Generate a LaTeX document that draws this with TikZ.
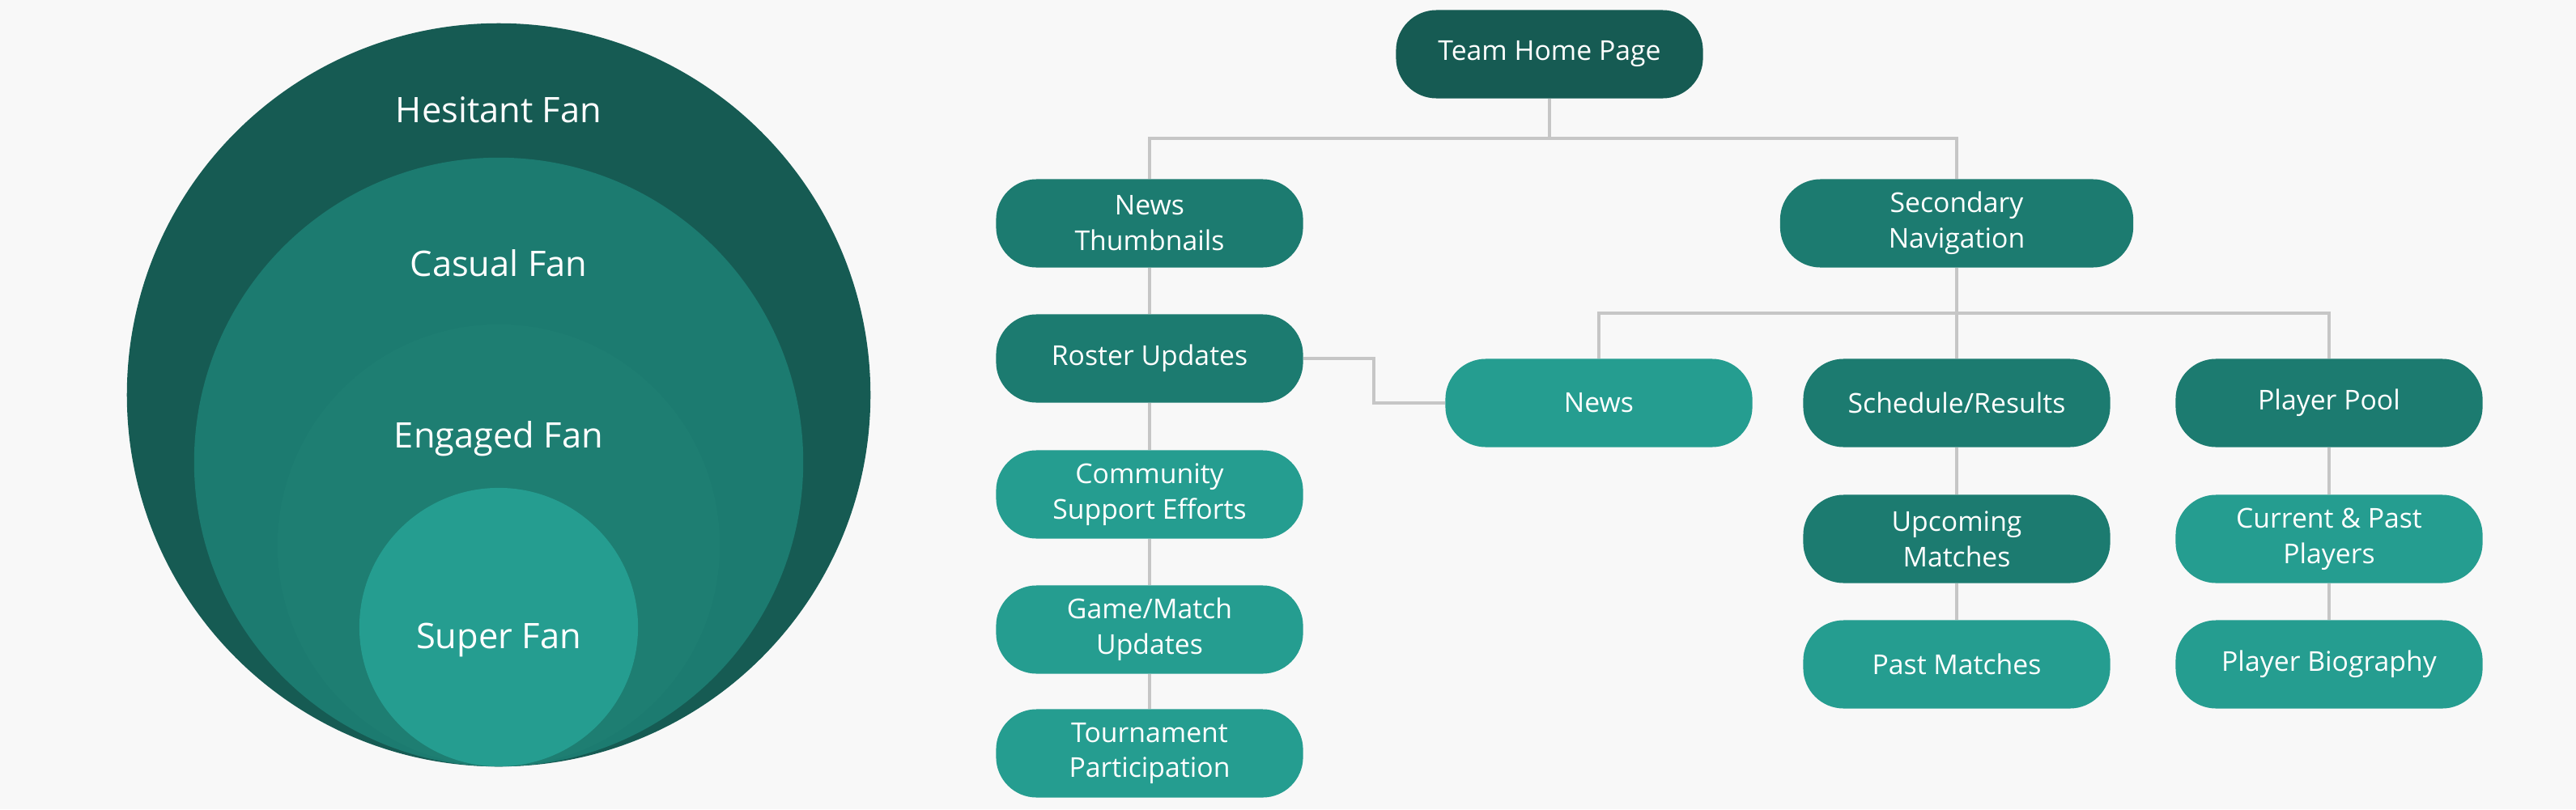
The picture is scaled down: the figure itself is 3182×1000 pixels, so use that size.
\documentclass[tikz,border=0pt]{standalone}
\usepackage{fontspec}
\setmainfont{Open Sans}
\usetikzlibrary{positioning}

\definecolor{pagebg}{HTML}{F8F8F8}
\definecolor{tealdark}{HTML}{165B53}
\definecolor{tealmid}{HTML}{1C7B70}
\definecolor{tealeng}{HTML}{1E7E72}
\definecolor{teallight}{HTML}{259D90}
\definecolor{linkgray}{HTML}{C6C6C6}

\begin{document}
\begin{tikzpicture}[x=0.01cm,y=-0.01cm,box/.style={rectangle, rounded corners=0.5cm, minimum width=3.79cm, minimum height=1.09cm, inner sep=0pt, align=center, text=white, font=\fontsize{9.6}{12.5}\selectfont},darkbox/.style={box, fill=tealdark},midbox/.style={box, fill=tealmid},lightbox/.style={box, fill=teallight},link/.style={draw=linkgray, line width=1pt},fanlabel/.style={anchor=base, text=white, inner sep=0pt, font=\fontsize{12.35}{15}\selectfont}]
\fill[pagebg] (0,0) rectangle (3182,1000);
\useasboundingbox (0,0) rectangle (3182,1000);
% fan circles
\fill[tealdark] (616,488) circle (4.59cm);
\fill[tealmid] (616,571) circle (3.76cm);
\fill[tealeng] (616,674) circle (2.73cm);
\fill[teallight] (616,775) circle (1.72cm);
\node[fanlabel] (hesitant) at (616,151) {Hesitant Fan};
\node[fanlabel] (casual) at (616,341) {Casual Fan};
\node[fanlabel] (engaged) at (616,553) {Engaged Fan};
\node[fanlabel] (super) at (616,801) {Super Fan};
% site map
\node[darkbox] (home) at (1914,67) {Team Home Page};
\node[midbox] (thumbs) at (1420,276) {News\\Thumbnails};
\node[midbox] (roster) at (1420,443) {Roster Updates};
\node[lightbox] (community) at (1420,611) {Community\\Support Efforts};
\node[lightbox] (gamematch) at (1420,778) {Game/Match\\Updates};
\node[lightbox] (tourney) at (1420,931) {Tournament\\Participation};
\node[midbox, minimum width=4.36cm] (secnav) at (2417,276) {Secondary\\Navigation};
\node[lightbox] (news) at (1975,498) {News};
\node[midbox] (schedule) at (2417,498) {Schedule/Results};
\node[midbox] (pool) at (2877,498) {Player Pool};
\node[midbox] (upcoming) at (2417,666) {Upcoming\\Matches};
\node[lightbox] (currentpast) at (2877,666) {Current \& Past\\Players};
\node[lightbox] (pastmatch) at (2417,821) {Past Matches};
\node[lightbox] (bio) at (2877,821) {Player Biography};
\coordinate (topbus) at (1914,171);
\coordinate (navbus) at (2417,387);
\coordinate (bend) at (1697,470);
\draw[link] (home.south) -- (topbus);
\draw[link] (thumbs.north) |- (topbus) -| (secnav.north);
\draw[link] (thumbs) -- (roster) -- (community) -- (gamematch) -- (tourney);
\draw[link] (roster.east) -| (bend) |- (news.west);
\draw[link] (secnav.south) -- (schedule.north);
\draw[link] (news.north) |- (navbus) -| (pool.north);
\draw[link] (schedule) -- (upcoming) -- (pastmatch);
\draw[link] (pool) -- (currentpast) -- (bio);
\end{tikzpicture}
\end{document}
